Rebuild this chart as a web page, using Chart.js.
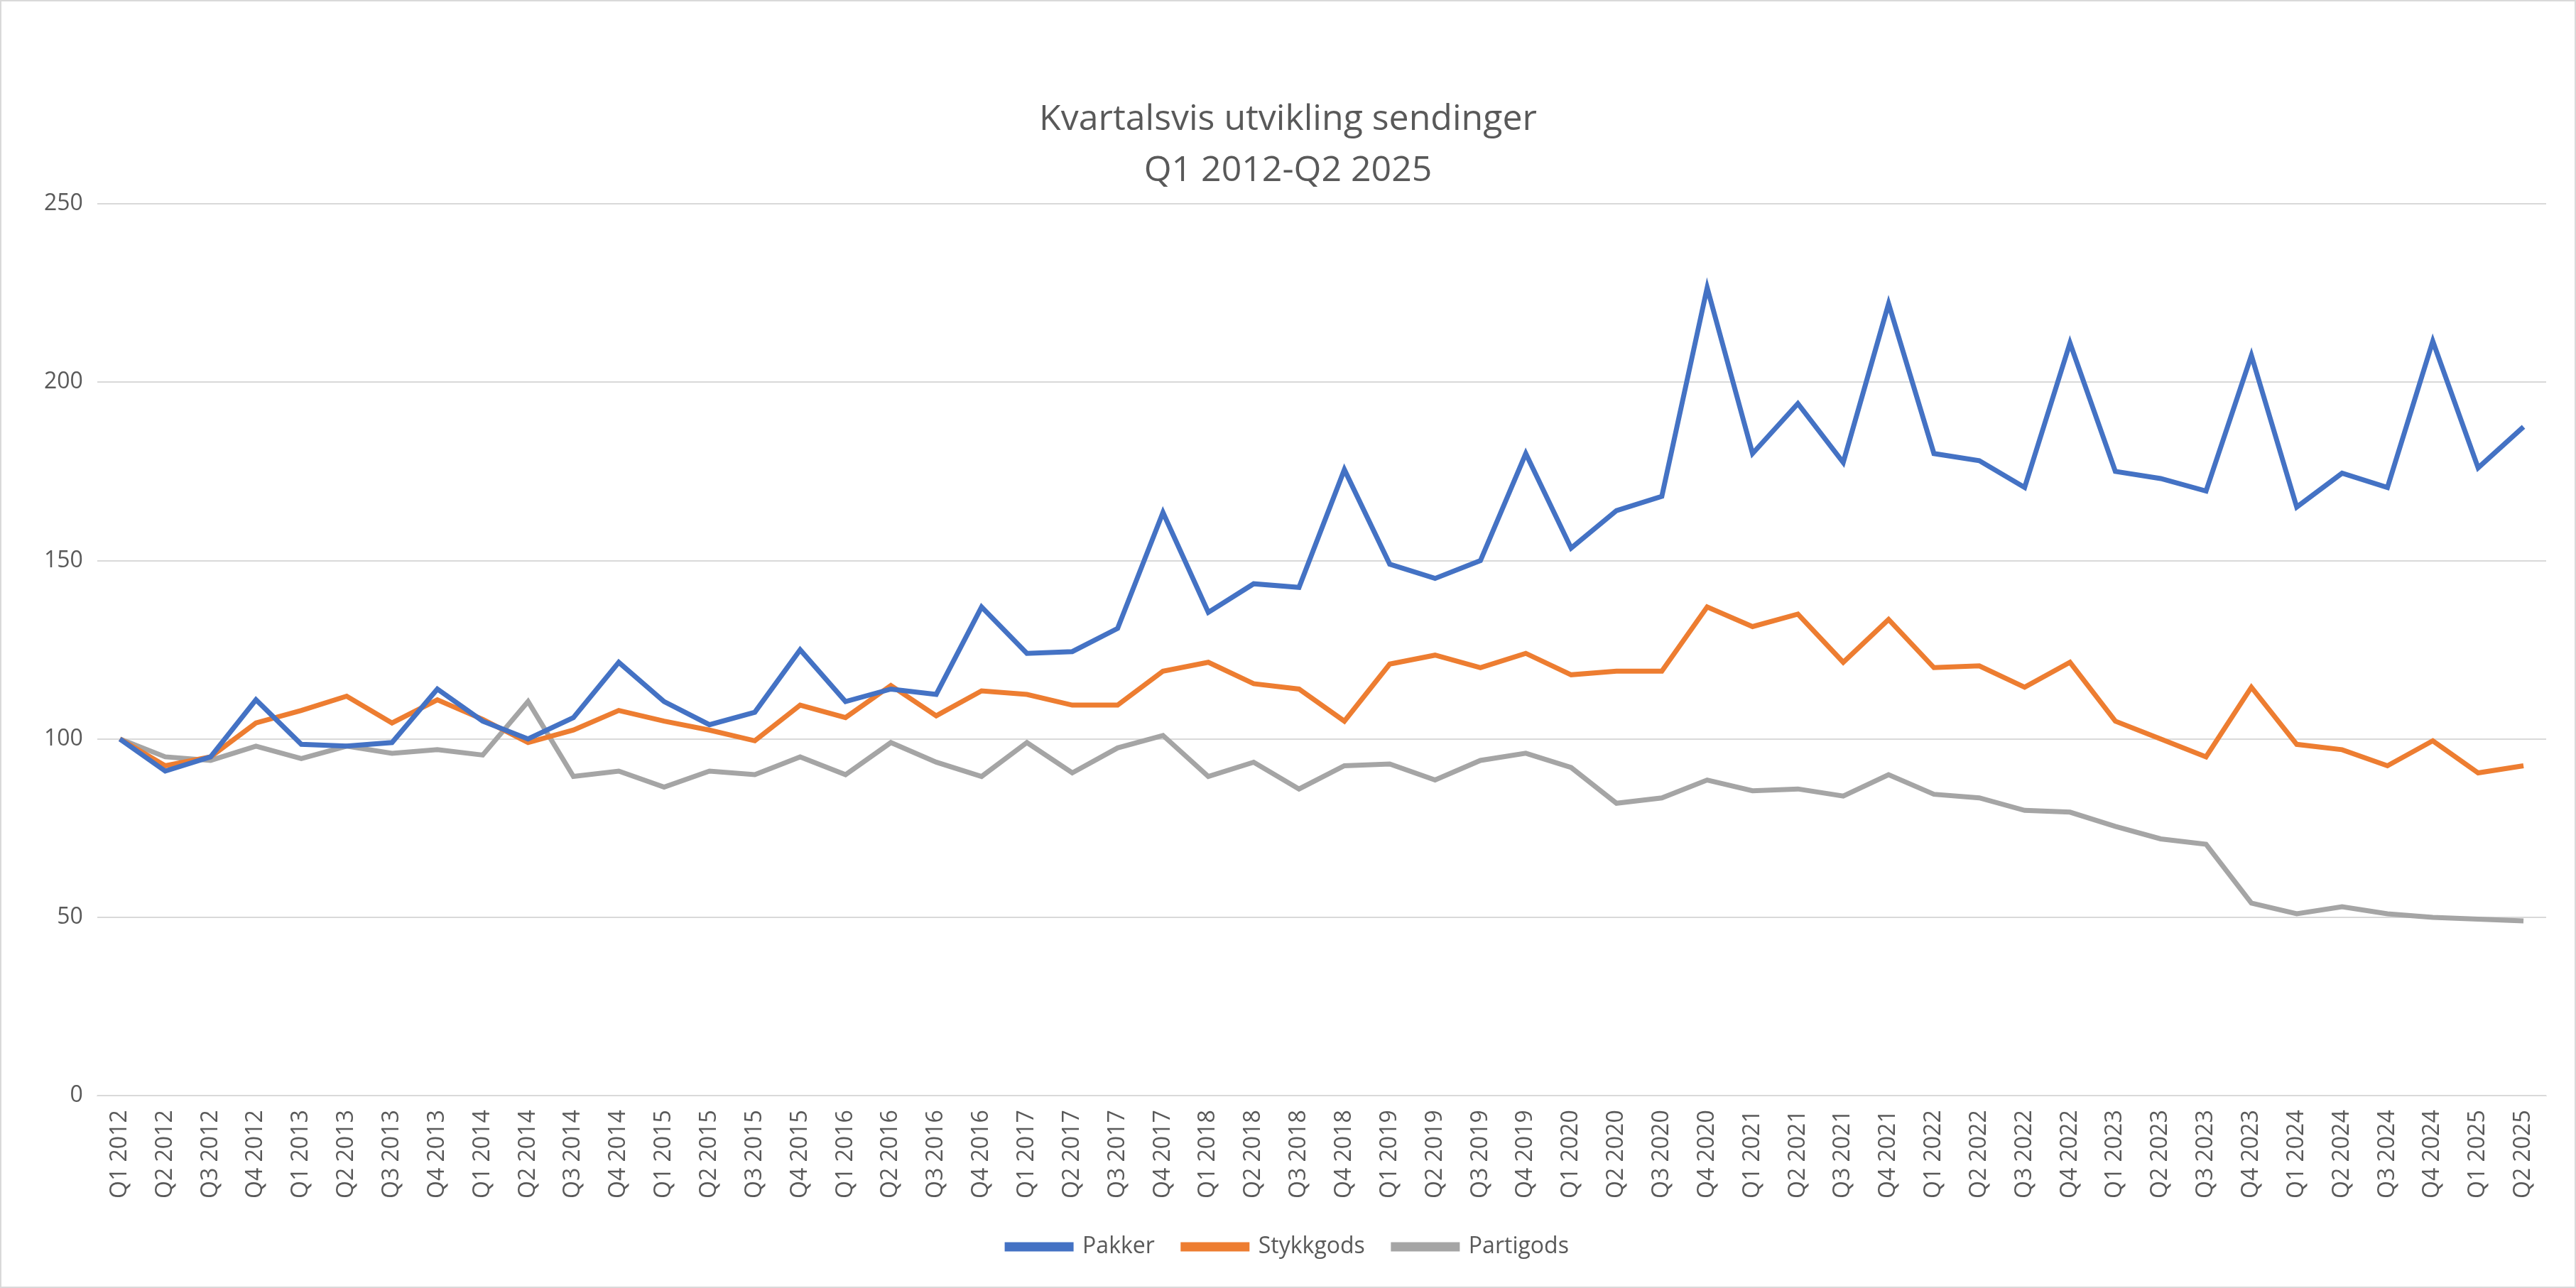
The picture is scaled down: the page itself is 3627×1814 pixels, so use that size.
<!DOCTYPE html>
<html><head><meta charset="utf-8">
<script src="https://cdn.jsdelivr.net/npm/chart.js@4"></script>
<style>html,body{margin:0;padding:0;background:#fff}#w{width:3627px;height:1814px;box-sizing:border-box;border:2px solid #d9d9d9}</style>
</head><body><div id="w"><canvas id="c"></canvas></div>
<script>
const categories=[];
for(let y=2012;y<=2025;y++)for(let q=1;q<=4;q++){if(y===2025&&q>2)break;categories.push('Q'+q+' '+y);}
const pakker=[100,91,95,111,98.5,98,99,114,105,100,106,121.5,110.5,104,107.5,125,110.5,114,112.5,137,124,124.5,131,163.5,135.5,143.5,142.5,175.5,149,145,150,180,153.5,164,168,226.5,180,194,177.5,222,180,178,170.5,211,175,173,169.5,207.5,165,174.5,170.5,211.5,176,187.5];
const stykkgods=[100,92.5,95,104.5,108,112,104.5,111,105.5,99,102.5,108,105,102.5,99.5,109.5,106,115,106.5,113.5,112.5,109.5,109.5,119,121.5,115.5,114,105,121,123.5,120,124,118,119,119,137,131.5,135,121.5,133.5,120,120.5,114.5,121.5,105,100,95,114.5,98.5,97,92.5,99.5,90.5,92.5];
const partigods=[100,95,94,98,94.5,98,96,97,95.5,110.5,89.5,91,86.5,91,90,95,90,99,93.5,89.5,99,90.5,97.5,101,89.5,93.5,86,92.5,93,88.5,94,96,92,82,83.5,88.5,85.5,86,84,90,84.5,83.5,80,79.5,75.5,72,70.5,54,51,53,51,50,49.5,49];
const F='"Open Sans", "Liberation Sans", sans-serif';
const mk=(l,d,c)=>({label:l,data:d,borderColor:c,backgroundColor:c,borderWidth:7,pointRadius:0,tension:0});
new Chart(document.getElementById('c'),{type:'line',
data:{labels:categories,datasets:[mk('Pakker',pakker,'#4472c4'),mk('Stykkgods',stykkgods,'#ed7d31'),mk('Partigods',partigods,'#a5a5a5')]},
options:{responsive:true,maintainAspectRatio:false,animation:false,
layout:{padding:{left:40,right:40,top:130,bottom:30}},
plugins:{title:{display:true,text:['Kvartalsvis utvikling sendinger','Q1 2012-Q2 2025'],color:'#595959',font:{family:F,size:50,weight:'normal',lineHeight:1.45},padding:{bottom:10}},
legend:{position:'bottom',labels:{color:'#595959',font:{family:F,size:32},boxWidth:90,boxHeight:6,padding:40}}},
scales:{x:{offset:true,grid:{display:false},border:{color:'#d9d9d9'},ticks:{color:'#595959',font:{family:F,size:32},maxRotation:90,minRotation:90,autoSkip:false,padding:12}},
y:{min:0,max:250,afterFit:s=>{},ticks:{stepSize:50,color:'#595959',font:{family:F,size:32},padding:20},grid:{color:'#d9d9d9',lineWidth:2,drawTicks:false},border:{display:false}}}}});
</script></body></html>
